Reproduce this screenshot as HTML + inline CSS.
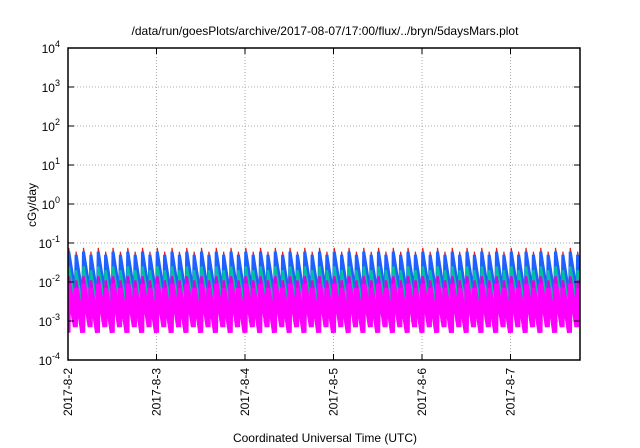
<!DOCTYPE html>
<html><head><meta charset="utf-8"><style>
body{margin:0;background:#fff;}
svg{display:block;font-family:"Liberation Sans",sans-serif;}
</style></head><body>
<svg id="c" width="640" height="448" viewBox="0 0 640 448">
<rect width="640" height="448" fill="#fff"/>
<text x="325" y="35" text-anchor="middle" font-size="12">/data/run/goesPlots/archive/2017-08-07/17:00/flux/../bryn/5daysMars.plot</text>
<text transform="translate(36,205) rotate(-90)" text-anchor="middle" font-size="12">cGy/day</text>
<text x="325" y="442" text-anchor="middle" font-size="12">Coordinated Universal Time (UTC)</text>
<g id="grid"></g><g id="series"></g><g id="axes"></g>
</svg>
<script>
const dayLabels=["2017-8-2","2017-8-3","2017-8-4","2017-8-5","2017-8-6","2017-8-7"];
const yExps=[-4,-3,-2,-1,0,1,2,3,4];
const seriesNames=["magenta","magenta2","green","blue","red"];
const seriesColors=["#ff00ff","#e000e0","#00c0a0","#2060ff","#e02020"];
const peakA=[0.009,0.014,0.025,0.06,0.075];
const peakB=[0.007,0.011,0.02,0.05,0.06];
const troughA=[0.0005,0.0009,0.0018,0.004,0.003];
const troughB=[0.0007,0.0012,0.0025,0.005,0.004];
const cyclesPerDay=12;
const tStart=0, tEnd=5.76;
const X0=68,X1=580,Y0=48,Y1=360,DAYW=88.5;
const sx=t=>X0+t*DAYW;
const sy=v=>Y1-(Math.log10(v)+4)*(Y1-Y0)/8;
const NS="http://www.w3.org/2000/svg";
function mk(tag,at,parent){const e=document.createElementNS(NS,tag);for(const k in at)e.setAttribute(k,at[k]);parent.appendChild(e);return e;}
const grid=document.getElementById('grid'),ser=document.getElementById('series'),ax=document.getElementById('axes');
yExps.forEach((p,i)=>{const y=sy(Math.pow(10,p));
 if(i>0&&i<yExps.length-1){const g=mk('line',{x1:X0,x2:X1,y1:y,y2:y,stroke:'#aaa','stroke-dasharray':'1,2','stroke-width':1},grid);
 }
 const t=mk('line',{x1:X0,x2:X0+6,y1:y,y2:y,stroke:'#000'},ax);
 const t2=mk('line',{x1:X1,x2:X1-6,y1:y,y2:y,stroke:'#000'},ax);
 const tx=mk('text',{x:X0-8,y:y+5,'text-anchor':'end','font-size':12},ax);
 
 tx.innerHTML='10<tspan dy="-6" font-size="9">'+p+'</tspan>';});
dayLabels.forEach((d,i)=>{const x=sx(i);
 if(i>0){const g=mk('line',{x1:x,x2:x,y1:Y0,y2:Y1,stroke:'#aaa','stroke-dasharray':'1,2'},grid);}
 const t=mk('line',{x1:x,x2:x,y1:Y1,y2:Y1-6,stroke:'#000'},ax);
 const t2=mk('line',{x1:x,x2:x,y1:Y0,y2:Y0+6,stroke:'#000'},ax);
 const tx=mk('text',{transform:`translate(${x+4},368) rotate(-90)`,'text-anchor':'end','font-size':12},ax);
 tx.textContent=d;});
const fr=mk('rect',{x:X0,y:Y0,width:X1-X0,height:Y1-Y0,fill:'none',stroke:'#000','stroke-width':1.5},ax);

const clip=mk('clipPath',{id:'cp'},ser);mk('rect',{x:X0,y:Y0,width:X1-X0,height:Y1-Y0},clip);
const widths=[5,2.5,2.5,3,1.2];
const order=[4,3,2,1,0];
order.forEach(s=>{let pts=[];const n=Math.ceil((tEnd-tStart)*cyclesPerDay);
 for(let k=0;k<=n;k++){const t0=tStart+k/cyclesPerDay;const even=k%2==0;
  pts.push([sx(t0),sy(even?troughA[s]:troughB[s])]);
  pts.push([sx(t0+0.1/cyclesPerDay),sy(even?peakA[s]:peakB[s])]);}
 const pl=mk('polyline',{points:pts.map(p=>p.join(',')).join(' '),fill:'none',stroke:seriesColors[s],'stroke-width':widths[s],'stroke-linejoin':'miter','clip-path':'url(#cp)'},ser);
 });
</script>
</body></html>
